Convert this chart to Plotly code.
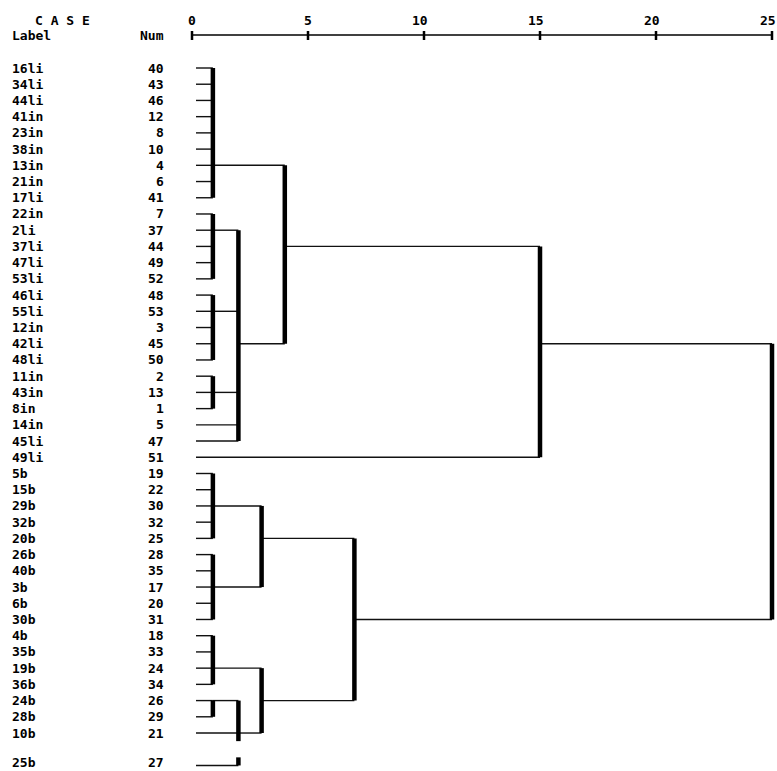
import plotly.graph_objects as go

# ---------------- data ----------------
case_labels = ["16li", "34li", "44li", "41in", "23in", "38in", "13in", "21in", "17li",
               "22in", "2li", "37li", "47li", "53li", "46li", "55li", "12in", "42li", "48li",
               "11in", "43in", "8in", "14in", "45li", "49li",
               "5b", "15b", "29b", "32b", "20b", "26b", "40b", "3b", "6b", "30b",
               "4b", "35b", "19b", "36b", "24b", "28b", "10b", None, "25b"]
case_nums = [40, 43, 46, 12, 8, 10, 4, 6, 41,
             7, 37, 44, 49, 52, 48, 53, 3, 45, 50,
             2, 13, 1, 5, 47, 51,
             19, 22, 30, 32, 25, 28, 35, 17, 20, 31,
             18, 33, 24, 34, 26, 29, 21, None, 27]

merge_names = ["A", "B1", "B2", "B3", "B", "AB", "ABx",
               "C1", "C2", "C", "D1", "D2", "D3", "D", "CD", "root"]
merge_members = [
    ["16li", "34li", "44li", "41in", "23in", "38in", "13in", "21in", "17li"],
    ["22in", "2li", "37li", "47li", "53li"],
    ["46li", "55li", "12in", "42li", "48li"],
    ["11in", "43in", "8in"],
    ["B1", "B2", "B3", "14in", "45li"],
    ["A", "B"],
    ["AB", "49li"],
    ["5b", "15b", "29b", "32b", "20b"],
    ["26b", "40b", "3b", "6b", "30b"],
    ["C1", "C2"],
    ["4b", "35b", "19b", "36b"],
    ["24b", "28b"],
    ["D2", "10b", "25b"],
    ["D1", "D3"],
    ["C", "D"],
    ["ABx", "CD"],
]
merge_heights = [0.9, 0.9, 0.9, 0.9, 2.0, 4.0, 15.0,
                 0.9, 0.9, 3.0, 0.9, 0.9, 2.0, 3.0, 7.0, 25.0]
merge_joins = ["13in", "2li", "55li", "43in", "42li", "37li", "42li",
               "29b", "3b", "20b", "19b", "24b", "10b", "24b", "30b", None]

scale_ticks = [0, 5, 10, 15, 20, 25]

# ---------------- geometry helpers ----------------
W, H = 777, 771
X0_PX, UNIT_PX = 192.0, 23.2          # pixel of value 0, pixels per unit
ROW1_PX, ROW_PX = 68.0, 16.22          # pixel of first row, row pitch

def px_to_x(p):
    return (p - X0_PX) / UNIT_PX

def px_to_row(p):
    return 1 + (p - ROW1_PX) / ROW_PX

def row_to_px(r):
    return ROW1_PX + (r - 1) * ROW_PX

leaf_row = {lab: i + 1 for i, lab in enumerate(case_labels) if lab is not None}
blank_rows = [i + 1 for i, lab in enumerate(case_labels) if lab is None]
leaf_start = px_to_x(196)

node_y = dict(leaf_row)
node_x = {lab: leaf_start for lab in leaf_row}

hx, hy, vx, vy = [], [], [], []
for name, members, h, join in zip(merge_names, merge_members, merge_heights, merge_joins):
    ys = []
    for m in members:
        y = node_y[m]
        ys.append(y)
        hx += [node_x[m], h, None]
        hy += [y, y, None]
    lo, hi = min(ys), max(ys)
    # vertical bar, broken where a blank (page-break) row sits inside it
    cur = lo
    for b in blank_rows:
        if lo < b < hi:
            vx += [h, h, None]
            vy += [cur, b - 0.5, None]
            cur = b + 0.5
    vx += [h, h, None]
    vy += [cur, hi, None]
    node_x[name] = h
    node_y[name] = leaf_row[join] if join else (lo + hi) / 2

fig = go.Figure()
fig.add_trace(go.Scatter(x=hx, y=hy, mode="lines",
                         line=dict(color="#111111", width=1.4), hoverinfo="skip"))
fig.add_trace(go.Scatter(x=vx, y=vy, mode="lines",
                         line=dict(color="#000000", width=4.5), hoverinfo="skip"))

# top scale rule with "+" ticks
rule_y = px_to_row(35)
fig.add_trace(go.Scatter(x=[scale_ticks[0], scale_ticks[-1]], y=[rule_y, rule_y], mode="lines",
                         line=dict(color="#000000", width=1.6), hoverinfo="skip"))
tx, ty = [], []
for t in scale_ticks:
    tx += [t, t, None]
    ty += [px_to_row(31), px_to_row(40), None]
fig.add_trace(go.Scatter(x=tx, y=ty, mode="lines",
                         line=dict(color="#000000", width=2.5), hoverinfo="skip"))

FONT = dict(family="DejaVu Sans Mono", size=13, color="#000000", weight="bold")
HALF_BOX = 9  # approx half text-box height in px, keeps last row inside the page
ann = []
def add_text(x, y, text, anchor, xshift=0):
    yshift = 0
    over = row_to_px(y) + HALF_BOX - H
    if over > 0:
        yshift = over
    ann.append(dict(x=x, y=y, text=text, showarrow=False, xanchor=anchor,
                    yanchor="middle", xshift=xshift, yshift=yshift,
                    font=FONT, borderpad=0, borderwidth=0))

for t in scale_ticks:
    add_text(t, px_to_row(20), str(t), "right", xshift=4)
add_text(px_to_x(35), px_to_row(20), "C A S E", "left")
add_text(px_to_x(12), px_to_row(35), "Label", "left")
add_text(px_to_x(164), px_to_row(35), "Num", "right")
for lab, num in zip(case_labels, case_nums):
    if lab is None:
        continue
    r = leaf_row[lab]
    add_text(px_to_x(12), r, lab, "left")
    add_text(px_to_x(164), r, str(num), "right")

fig.update_layout(
    width=W, height=H,
    margin=dict(l=0, r=0, t=0, b=0),
    paper_bgcolor="white", plot_bgcolor="white",
    showlegend=False,
    annotations=ann,
    xaxis=dict(range=[px_to_x(0), px_to_x(W)], visible=False, fixedrange=True),
    yaxis=dict(range=[px_to_row(H), px_to_row(0)], visible=False, fixedrange=True),
)
fig.write_html("out.html", config={"displayModeBar": False},
               post_script="document.body.style.margin='0';document.body.style.padding='0';"
                           "document.body.style.overflow='hidden';")
